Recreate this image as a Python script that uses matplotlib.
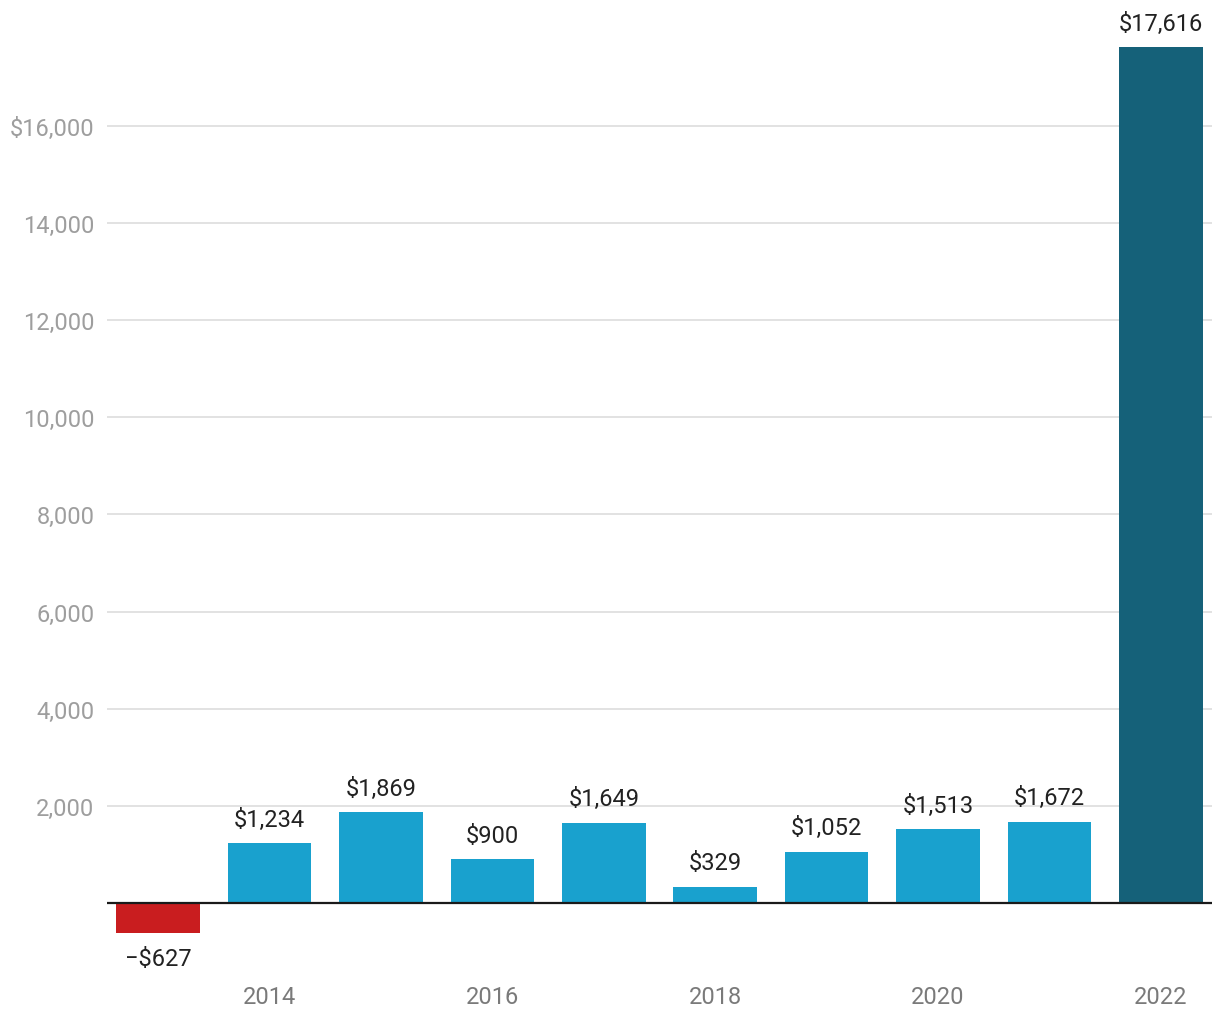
import numpy as np
import matplotlib
matplotlib.use("Agg")
import matplotlib.pyplot as plt
from matplotlib.ticker import FuncFormatter

plt.rcParams['font.family'] = ['Roboto', 'DejaVu Sans']

# data
years = [2013, 2014, 2015, 2016, 2017, 2018, 2019, 2020, 2021, 2022]
values = [-627, 1234, 1869, 900, 1649, 329, 1052, 1513, 1672, 17616]
yticks = [2000, 4000, 6000, 8000, 10000, 12000, 14000, 16000]
xtick_years = [2014, 2016, 2018, 2020, 2022]

blue = '#19a1ce'
dark = '#156179'
red = '#c91d1f'

colors = []
for y, v in zip(years, values):
    if v < 0:
        colors.append(red)
    elif y == 2022:
        colors.append(dark)
    else:
        colors.append(blue)

fig = plt.figure(figsize=(12.2, 10.2), dpi=100)
ax = fig.add_axes([107/1220, 1 - 952.5/1020, (1212-107)/1220, (952.5-5.5)/1020])

x = np.arange(len(years))
ax.bar(x, values, width=0.75, color=colors, zorder=3)

ax.set_xlim(-0.46, 9.46)
ax.set_ylim(-1000, 18500)

# grid
for t in yticks:
    ax.axhline(t, color='#e2e2e2', lw=1.4, zorder=1)
ax.axhline(0, color='#1a1a1a', lw=1.6, zorder=4)

ax.set_yticks(yticks)
ax.yaxis.set_major_formatter(FuncFormatter(
    lambda v, p: ('$' if v == 16000 else '') + f'{int(v):,}'))
ax.tick_params(axis='y', length=0, pad=9, labelsize=17, labelcolor='#9e9e9e')

ax.set_xticks([years.index(y) for y in xtick_years])
ax.set_xticklabels([str(y) for y in xtick_years])
ax.tick_params(axis='x', length=0, pad=24, labelsize=17, labelcolor='#7a7a7a')

for s in ax.spines.values():
    s.set_visible(False)

# value labels
for xi, v in zip(x, values):
    if v < 0:
        ax.annotate('\u2212$' + f'{-v:,}', (xi, v), xytext=(0, -10),
                    textcoords='offset points', ha='center', va='top',
                    fontsize=17, color='#222222', clip_on=False)
    else:
        ax.annotate('$' + f'{v:,}', (xi, v), xytext=(0, 9),
                    textcoords='offset points', ha='center', va='bottom',
                    fontsize=17, color='#222222', clip_on=False)

plt.savefig('out.png', dpi=100)
